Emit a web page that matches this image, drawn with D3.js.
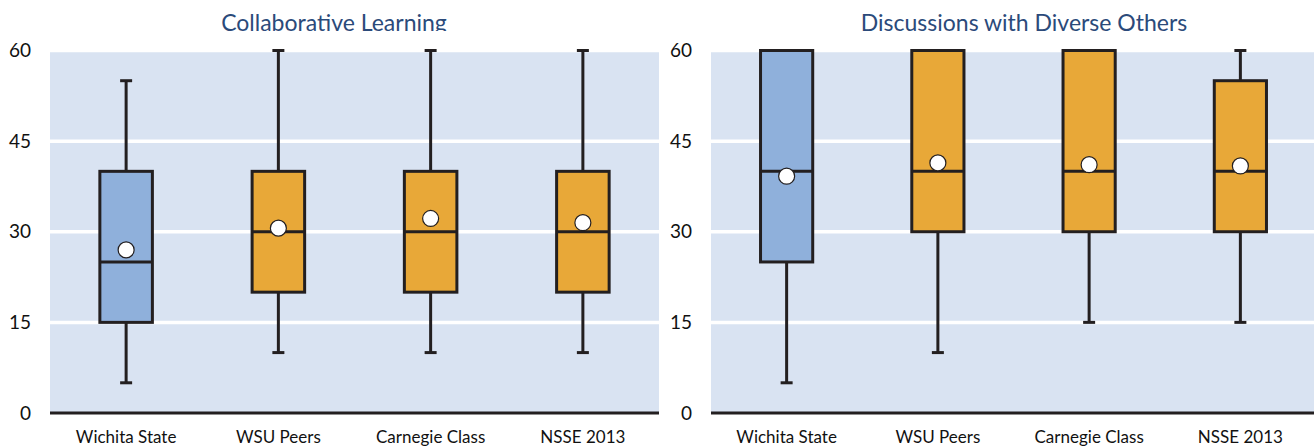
<!DOCTYPE html>
<html>
<head>
<meta charset="utf-8">
<script src="https://cdn.jsdelivr.net/npm/d3@7"></script>
<style>
  html, body { margin: 0; padding: 0; background: #fff; }
  svg { display: block; }
</style>
</head>
<body>
<svg id="chart"></svg>
<script>
// data
const categories = ['Wichita State', 'WSU Peers', 'Carnegie Class', 'NSSE 2013'];
const yTicks = [0, 15, 30, 45, 60];
const titles = ['Collaborative Learning', 'Discussions with Diverse Others'];

const collabMin = [5, 10, 10, 10];
const collabQ1 = [15, 20, 20, 20];
const collabMedian = [25, 30, 30, 30];
const collabQ3 = [40, 40, 40, 40];
const collabMax = [55, 60, 60, 60];
const collabMean = [27.0, 30.6, 32.2, 31.5];

const diverseMin = [5, 10, 15, 15];
const diverseQ1 = [25, 30, 30, 30];
const diverseMedian = [40, 40, 40, 40];
const diverseQ3 = [60, 60, 60, 55];
const diverseMax = [60, 60, 60, 60];
const diverseMean = [39.2, 41.4, 41.1, 40.9];

const width = 1314;
const height = 447;
const ink = '#231F20';
const boxColors = ['#8FB0DB', '#E8A838', '#E8A838', '#E8A838'];

const svg = d3.select('#chart')
  .attr('width', width)
  .attr('height', height);

const y = d3.scaleLinear()
  .domain([0, 60])
  .range([413, 50.5]);

const toRows = (mins, q1s, meds, q3s, maxs, means) =>
  categories.map((c, i) => ({
    name: c, min: mins[i], q1: q1s[i], median: meds[i], q3: q3s[i], max: maxs[i], mean: means[i], color: boxColors[i]
  }));

const panels = [
  { title: titles[0], x0: 50, x1: 659, labelX: 31, titleX: 334,
    rows: toRows(collabMin, collabQ1, collabMedian, collabQ3, collabMax, collabMean) },
  { title: titles[1], x0: 711, x1: 1316, labelX: 692, titleX: 1024,
    rows: toRows(diverseMin, diverseQ1, diverseMedian, diverseQ3, diverseMax, diverseMean) }
];

svg.append('defs')
  .append('clipPath')
  .attr('id', 'titleClip')
  .append('rect')
  .attr('x', 0).attr('y', 0)
  .attr('width', width).attr('height', 31);

panels.forEach(p => {
  const x = d3.scaleBand()
    .domain(categories)
    .range([p.x0, p.x1]);
  const boxW = x.bandwidth() * 0.345;
  const capW = 12;

  const g = svg.append('g');

  // plot background
  g.append('rect')
    .attr('x', p.x0)
    .attr('y', y(60))
    .attr('width', p.x1 - p.x0)
    .attr('height', y(0) - y(60))
    .attr('fill', '#D9E3F2');

  // white gridlines
  g.selectAll('.grid')
    .data(yTicks.filter(t => t > 0))
    .enter()
    .append('line')
    .attr('x1', p.x0)
    .attr('x2', p.x1)
    .attr('y1', d => y(d))
    .attr('y2', d => y(d))
    .attr('stroke', '#fff')
    .attr('stroke-width', 3.5);

  // y tick labels
  g.selectAll('.ylab')
    .data(yTicks)
    .enter()
    .append('text')
    .attr('x', p.labelX)
    .attr('y', d => y(d))
    .attr('dy', '0.35em')
    .attr('text-anchor', 'end')
    .style('font-family', 'Lato, sans-serif')
    .style('font-size', '19px')
    .attr('fill', '#111')
    .text(d => d);

  const box = g.selectAll('.box')
    .data(p.rows)
    .enter()
    .append('g');

  // whisker
  box.append('line')
    .attr('x1', d => x(d.name) + x.bandwidth() / 2)
    .attr('x2', d => x(d.name) + x.bandwidth() / 2)
    .attr('y1', d => y(d.min))
    .attr('y2', d => y(d.max))
    .attr('stroke', ink)
    .attr('stroke-width', 3);

  // caps
  ['min', 'max'].forEach(k => {
    box.append('line')
      .attr('x1', d => x(d.name) + x.bandwidth() / 2 - capW / 2)
      .attr('x2', d => x(d.name) + x.bandwidth() / 2 + capW / 2)
      .attr('y1', d => y(d[k]))
      .attr('y2', d => y(d[k]))
      .attr('stroke', ink)
      .attr('stroke-width', 3);
  });

  // box
  box.append('rect')
    .attr('x', d => x(d.name) + x.bandwidth() / 2 - boxW / 2)
    .attr('y', d => y(d.q3))
    .attr('width', boxW)
    .attr('height', d => y(d.q1) - y(d.q3))
    .attr('fill', d => d.color)
    .attr('stroke', ink)
    .attr('stroke-width', 3);

  // median
  box.append('line')
    .attr('x1', d => x(d.name) + x.bandwidth() / 2 - boxW / 2)
    .attr('x2', d => x(d.name) + x.bandwidth() / 2 + boxW / 2)
    .attr('y1', d => y(d.median))
    .attr('y2', d => y(d.median))
    .attr('stroke', ink)
    .attr('stroke-width', 3);

  // mean marker
  box.append('circle')
    .attr('cx', d => x(d.name) + x.bandwidth() / 2)
    .attr('cy', d => y(d.mean))
    .attr('r', 8)
    .attr('fill', '#fff')
    .attr('stroke', ink)
    .attr('stroke-width', 1.2);

  // x axis line
  g.append('line')
    .attr('x1', p.x0)
    .attr('x2', p.x1)
    .attr('y1', y(0))
    .attr('y2', y(0))
    .attr('stroke', ink)
    .attr('stroke-width', 3);

  // category labels
  g.selectAll('.xlab')
    .data(categories)
    .enter()
    .append('text')
    .attr('x', d => x(d) + x.bandwidth() / 2)
    .attr('y', 443)
    .attr('text-anchor', 'middle')
    .style('font-family', 'Lato, sans-serif')
    .style('font-size', '17px')
    .attr('fill', '#111')
    .text(d => d);

  // title, cut off at the bottom as in the reference
  g.append('text')
    .attr('x', p.titleX)
    .attr('y', 31)
    .attr('text-anchor', 'middle')
    .attr('clip-path', 'url(#titleClip)')
    .style('font-family', 'Lato, sans-serif')
    .style('font-size', '23px')
    .attr('fill', '#2B4A7A')
    .text(p.title);
});
</script>
</body>
</html>
